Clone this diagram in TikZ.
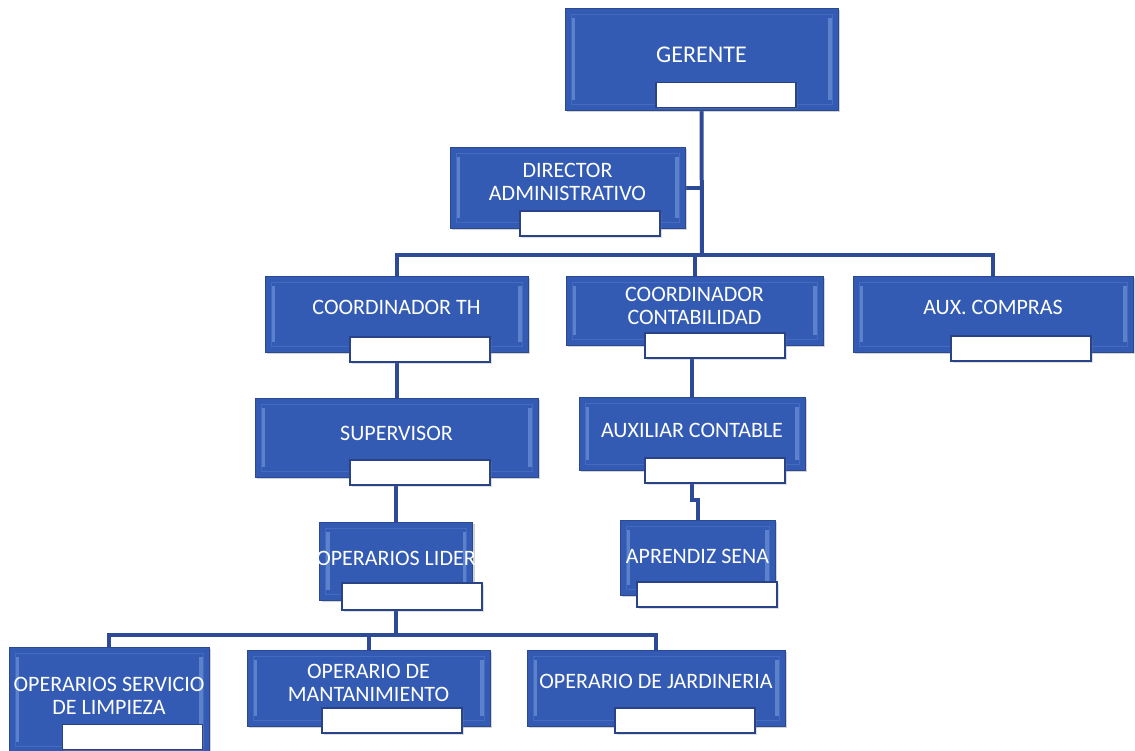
\documentclass[tikz,border=0pt]{standalone}
\usepackage{fontspec}
\setmainfont{Carlito}
\usetikzlibrary{backgrounds,shadows}
\definecolor{boxblue}{RGB}{52,91,180}
\definecolor{boxhi}{RGB}{92,130,204}
\definecolor{linkblue}{RGB}{44,74,150}
\begin{document}
\begin{tikzpicture}[
x=0.5pt, y=-0.5pt,
unit/.style={rectangle, fill=boxblue, draw=boxblue!80!black, line width=0.4pt,
  drop shadow={opacity=0.35, shadow xshift=1pt, shadow yshift=-1pt},
  path picture={
    \fill[boxhi] ([xshift=3pt,yshift=-5pt]path picture bounding box.north west)
      rectangle ([xshift=5pt,yshift=5pt]path picture bounding box.south west);
    \fill[boxhi] ([xshift=-5pt,yshift=-5pt]path picture bounding box.north east)
      rectangle ([xshift=-3pt,yshift=5pt]path picture bounding box.south east);
    \draw[boxhi!40!boxblue, line width=0.4pt]
      ([xshift=3pt,yshift=-3pt]path picture bounding box.north west)
      rectangle ([xshift=-3pt,yshift=3pt]path picture bounding box.south east);
  }},
tag/.style={rectangle, fill=white, draw=linkblue!90!black, line width=0.8pt,
  minimum width=70pt, minimum height=12.5pt, inner sep=0pt,
  drop shadow={opacity=0.25, shadow xshift=0.8pt, shadow yshift=-0.8pt}},
lbl/.style={text=white, align=center, inner sep=0pt, font=\fontsize{11}{11.5}\selectfont},
link/.style={draw=linkblue, line width=2pt}
]
\useasboundingbox (0,0) rectangle (1135,750);

\node[unit, minimum width=136.5pt, minimum height=51pt] (ger) at (701.5,59) {};
\node[unit, minimum width=117.5pt, minimum height=40.5pt] (dir) at (567.5,187.5) {};
\node[unit, minimum width=131.5pt, minimum height=38pt] (cth) at (396.5,314) {};
\node[unit, minimum width=128.5pt, minimum height=34.5pt] (cco) at (694.5,310.5) {};
\node[unit, minimum width=140pt, minimum height=38pt] (aux) at (993,314) {};
\node[unit, minimum width=141.5pt, minimum height=39.5pt] (sup) at (396.5,437.5) {};
\node[unit, minimum width=113pt, minimum height=36.5pt] (axc) at (692,433.5) {};
\node[unit, minimum width=76.5pt, minimum height=39pt] (opl) at (396,561) {};
\node[unit, minimum width=77.5pt, minimum height=37.5pt] (apr) at (697.5,557.5) {};
\node[unit, minimum width=100pt, minimum height=52.5pt] (ops) at (109,699.5) {};
\node[unit, minimum width=121.5pt, minimum height=38pt] (opm) at (368.5,688) {};
\node[unit, minimum width=129pt, minimum height=38pt] (opj) at (656,688) {};

\node[lbl] (gerT) at (701.5,55) {\fontsize{12}{13}\selectfont GERENTE};
\node[lbl] (dirT) at (567.5,182) {DIRECTOR\\ADMINISTRATIVO};
\node[lbl] (cthT) at (396.5,307) {COORDINADOR TH};
\node[lbl] (ccoT) at (694.5,305.5) {COORDINADOR\\CONTABILIDAD};
\node[lbl] (auxT) at (993,307) {AUX. COMPRAS};
\node[lbl] (supT) at (396.5,433) {SUPERVISOR};
\node[lbl] (axcT) at (692,430) {AUXILIAR CONTABLE};
\node[lbl] (oplT) at (396,558) {OPERARIOS LIDER};
\node[lbl] (aprT) at (697.5,556) {APRENDIZ SENA};
\node[lbl] (opsT) at (109,695.5) {OPERARIOS SERVICIO\\DE LIMPIEZA};
\node[lbl] (opmT) at (368.5,682.5) {OPERARIO DE\\MANTANIMIENTO};
\node[lbl] (opjT) at (656,681) {OPERARIO DE JARDINERIA};

\node[tag] (gerW) at (726,95) {};
\node[tag] (dirW) at (590,223.5) {};
\node[tag] (cthW) at (420,349.5) {};
\node[tag] (ccoW) at (715,345.5) {};
\node[tag] (auxW) at (1021,348.5) {};
\node[tag] (supW) at (420,472.5) {};
\node[tag] (axcW) at (715,470.5) {};
\node[tag, minimum height=13.5pt] (oplW) at (412,596.5) {};
\node[tag] (aprW) at (707,594.5) {};
\node[tag] (opsW) at (132.5,737) {};
\node[tag] (opmW) at (392,720.5) {};
\node[tag] (opjW) at (685,720.5) {};

\begin{scope}[on background layer]
\coordinate (busA) at (702,255);
\coordinate (busB) at (396,635);
\draw[link] (ger.south) -- (busA);
\draw[link] (dir.east) -- (dir.east -| busA);
\draw[link] (cth.north) |- (busA) -| (aux.north);
\draw[link] (cco.north) -- (cco.north |- busA);
\draw[link] (cth.south) -- (sup.north);
\draw[link] (sup.south -| opl.north) -- (opl.north);
\draw[link] (cco.south -| axc.north) -- (axc.north);
\draw[link] (axc.south) -- ++(0,30) -| (apr.north);
\draw[link] (opl.south) -- (busB);
\draw[link] (ops.north) |- (busB) -| (opj.north);
\draw[link] (opm.north) -- (opm.north |- busB);
\end{scope}
\end{tikzpicture}
\end{document}
